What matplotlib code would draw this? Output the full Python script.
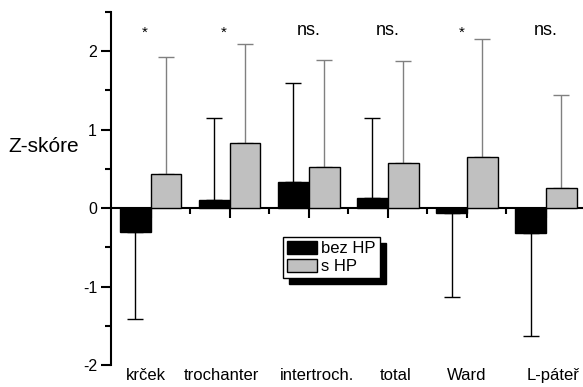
import numpy as np
import matplotlib
matplotlib.use('Agg')
import matplotlib.pyplot as plt
from matplotlib.ticker import MultipleLocator, FixedLocator
from matplotlib.patches import Patch

plt.rcParams['font.family'] = ['Liberation Sans', 'DejaVu Sans']
plt.rcParams['axes.unicode_minus'] = False

categories = ['krček', 'trochanter', 'intertroch.', 'total', 'Ward', 'L-páteř']
bez_hp = [-0.31, 0.10, 0.33, 0.13, -0.06, -0.32]
bez_hp_err = [1.10, 1.05, 1.26, 1.02, 1.07, 1.31]
s_hp = [0.43, 0.83, 0.52, 0.58, 0.65, 0.26]
s_hp_err = [1.49, 1.26, 1.37, 1.30, 1.51, 1.18]
signif = ['*', '*', 'ns.', 'ns.', '*', 'ns.']

fig = plt.figure(figsize=(5.83, 3.87), dpi=100)
ax = fig.add_axes([111/583, 22/387, 474.6/583, 353/387])

x = np.arange(1, len(categories) + 1)
w = 0.39
grey = '#c0c0c0'

def one_sided(vals, errs):
    # error bar only on the side the bar points to
    lo = [e if v < 0 else 0 for v, e in zip(vals, errs)]
    hi = [e if v >= 0 else 0 for v, e in zip(vals, errs)]
    return [lo, hi]

ax.bar(x - w/2, bez_hp, w, color='black', edgecolor='black', lw=1, zorder=3)
ax.bar(x + w/2, s_hp, w, color=grey, edgecolor='black', lw=1, zorder=3)
ax.errorbar(x - w/2, bez_hp, yerr=one_sided(bez_hp, bez_hp_err), fmt='none',
            ecolor='black', elinewidth=1, capsize=5.5, capthick=1, zorder=2)
ax.errorbar(x + w/2, s_hp, yerr=one_sided(s_hp, s_hp_err), fmt='none',
            ecolor='#808080', elinewidth=1, capsize=5.5, capthick=1, zorder=2)

ax.set_xlim(0.5, len(categories) + 0.5)
ax.set_ylim(-2, 2.5)

for s in ['top', 'right']:
    ax.spines[s].set_visible(False)
ax.spines['bottom'].set_position(('data', 0))
ax.spines['left'].set_linewidth(1.5)
ax.spines['bottom'].set_linewidth(1.5)

ax.yaxis.set_major_locator(FixedLocator([-2, -1, 0, 1, 2]))
ax.yaxis.set_minor_locator(MultipleLocator(0.5))
ax.tick_params(axis='y', which='major', length=7, width=1.5, labelsize=11.5, pad=3)
ax.tick_params(axis='y', which='minor', length=4, width=1.5)
ax.xaxis.set_major_locator(FixedLocator(x))
ax.xaxis.set_minor_locator(FixedLocator(x[:-1] + 0.5))
ax.tick_params(axis='x', which='major', length=7, width=1.5, labelbottom=False)
ax.tick_params(axis='x', which='minor', length=4, width=1.5)

# small horizontal nudges of the category labels, as in the original layout
shift = [-0.06, -0.1, 0.1, 0.1, 0.0, 0.09]
for xi, dx, lab in zip(x, shift, categories):
    ax.text(xi + dx, -2.04, lab, ha='center', va='top', fontsize=12)

for xi, lab in zip(x, signif):
    if lab == '*':
        ax.text(xi - 0.07, 2.23, lab, ha='center', va='center', fontsize=11)
    else:
        ax.text(xi, 2.21, lab, ha='center', va='baseline', fontsize=13)

ax.text(-0.217, 0.78, 'Z-skóre', transform=ax.get_yaxis_transform(),
        ha='left', va='center', fontsize=15)

handles = [Patch(facecolor='black', edgecolor='black'),
           Patch(facecolor=grey, edgecolor='black')]
leg = ax.legend(handles, ['bez HP', 's HP'], loc='lower left',
                bbox_to_anchor=(0.362, 0.246), borderaxespad=0, fancybox=False,
                framealpha=1, edgecolor='black', fontsize=12, handlelength=1.8,
                handleheight=0.8, handletextpad=0.25, borderpad=0.25,
                labelspacing=0.15,
                shadow={'ox': 4.5, 'oy': -4.5, 'facecolor': 'black',
                        'edgecolor': 'black', 'alpha': 1})
leg.get_frame().set_linewidth(1)

fig.savefig('out.png', dpi=100)
